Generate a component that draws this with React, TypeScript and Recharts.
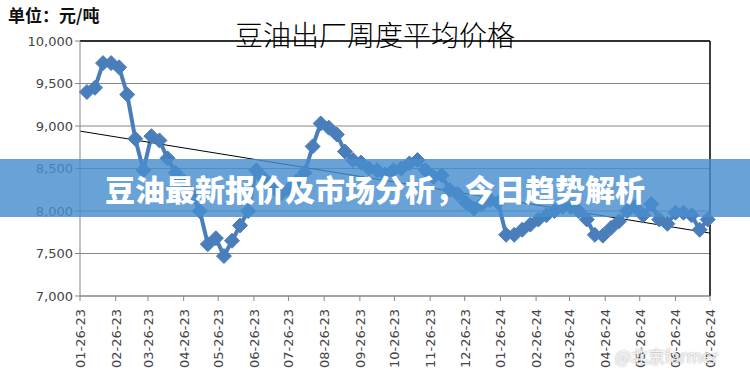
import React from "react"
import { LineChart, Line, XAxis, YAxis, CartesianGrid, ReferenceLine } from "recharts"

// x-axis tick labels (MM-DD-YY)
const tickLabels = [
  "01-26-23", "02-26-23", "03-26-23", "04-26-23", "05-26-23", "06-26-23",
  "07-26-23", "08-26-23", "09-26-23", "10-26-23", "11-26-23", "12-26-23",
  "01-26-24", "02-26-24", "03-26-24", "04-26-24", "05-26-24", "06-26-24", "07-26-24",
]

// weekly average factory price, yuan/ton, first week starting 2023-02-01
const firstWeek = "2023-02-01"
const prices = [
  9400, 9450, 9740, 9740, 9690, 9370, 8850, 8480, 8880, 8830,
  8620, 8450, 8350, 8200, 8000, 7610, 7680, 7470, 7650, 7830,
  8000, 8480, 8380, 8280, 8200, 8250, 8350, 8450, 8760, 9030,
  8980, 8900, 8700, 8600, 8570, 8500, 8480, 8430, 8480, 8500,
  8560, 8600, 8480, 8400, 8420, 8250, 8200, 8100, 8030, 8080,
  8130, 8100, 7720, 7720, 7780, 7840, 7900, 7950, 8000, 8050,
  8050, 8000, 7900, 7720, 7710, 7800, 7880, 8000, 8050, 7950,
  8080, 7900, 7850, 7980, 7980, 7950, 7780, 7900,
]

// linear trend, value at the start and end of the axis
const trendValues = [8940, 7740]

const yTicks = [7000, 7500, 8000, 8500, 9000, 9500, 10000]

const DAY = 86400000
const toDate = (label: string) => {
  const [m, d, y] = label.split("-")
  return Date.UTC(2000 + Number(y), Number(m) - 1, Number(d))
}
const base = toDate(tickLabels[0])
const tickDays = tickLabels.map((l) => Math.round((toDate(l) - base) / DAY))
const lastDay = tickDays[tickDays.length - 1]

const startDay = Math.round((Date.parse(firstWeek) - base) / DAY)
const data = prices.map((price, i) => ({ day: startDay + i * 7, price }))
const trendData = [
  { day: 0, trend: trendValues[0] },
  { day: lastDay, trend: trendValues[1] },
]

const labelOf = (day: number) => tickLabels[tickDays.indexOf(day)] ?? ""

const XTick = (props: any) => {
  const { x, y, payload } = props
  return (
    <text
      x={0}
      y={0}
      transform={`translate(${x + 5},${y + 6}) rotate(-90)`}
      textAnchor="end"
      fontSize={13}
      fontFamily="DejaVu Sans"
      fill="#444"
    >
      {labelOf(payload.value)}
    </text>
  )
}

const Diamond = (props: any) => {
  const { cx, cy, index } = props
  if (cx == null || cy == null) return null
  const r = 7.5
  return (
    <path
      key={index}
      d={`M${cx},${cy - r} L${cx + r},${cy} L${cx},${cy + r} L${cx - r},${cy} Z`}
      fill="#4A7EBB"
      stroke="#4A7EBB"
      strokeWidth={1}
    />
  )
}

export default function App() {
  return (
    <div style={{ position: "absolute", left: 0, top: 0, width: 750, height: 377, background: "#fff", overflow: "hidden" }}>
      <LineChart width={750} height={377} margin={{ top: 41, right: 40, left: 0, bottom: 0 }}>
        <CartesianGrid vertical={false} stroke="#868686" horizontalValues={yTicks} />
        <XAxis
          dataKey="day"
          type="number"
          domain={[0, lastDay]}
          ticks={tickDays}
          interval={0}
          height={81}
          stroke="#868686"
          tickSize={5}
          tick={<XTick />}
          allowDuplicatedCategory={false}
        />
        <YAxis
          domain={[7000, 10000]}
          ticks={yTicks}
          width={80}
          stroke="#868686"
          tickSize={5}
          tickFormatter={(v: number) => v.toLocaleString("en-US")}
          tick={{ fontSize: 13, fontFamily: "DejaVu Sans", fill: "#444" }}
        />
        <ReferenceLine y={10000} stroke="#000" strokeWidth={1.5} />
        <ReferenceLine x={lastDay} stroke="#000" strokeWidth={1.5} />
        <Line
          data={data}
          dataKey="price"
          type="linear"
          stroke="#4A7EBB"
          strokeWidth={4}
          dot={<Diamond />}
          isAnimationActive={false}
        />
        <Line
          data={trendData}
          dataKey="trend"
          type="linear"
          stroke="#000"
          strokeWidth={1}
          dot={false}
          isAnimationActive={false}
        />
      </LineChart>
      <div
        style={{
          position: "absolute", left: 8, top: 2,
          fontFamily: "'Noto Sans CJK SC'", fontWeight: 700, fontSize: 17, color: "#111",
        }}
      >
        单位：元/吨
      </div>
      <div
        style={{
          position: "absolute", left: 0, width: 750, top: 18, textAlign: "center",
          fontFamily: "'Noto Sans CJK SC'", fontWeight: 300, fontSize: 28, color: "#000", lineHeight: "32px",
        }}
      >
        豆油出厂周度平均价格
      </div>
      <div
        style={{
          position: "absolute", left: 0, top: 159, width: 750, height: 58,
          background: "rgba(72,142,205,0.82)",
          display: "flex", alignItems: "center", justifyContent: "center",
          fontFamily: "'Noto Sans CJK SC'", fontWeight: 900, fontSize: 30, color: "#fff",
        }}
      >
        豆油最新报价及市场分析，今日趋势解析
      </div>
      <div
        style={{
          position: "absolute", left: 615, top: 343,
          fontFamily: "'Noto Sans CJK SC'", fontSize: 17, color: "rgba(255,255,255,0.85)",
          textShadow: "0 0 2px rgba(0,0,0,0.45)",
        }}
      >
        @北京farmer
      </div>
    </div>
  )
}
